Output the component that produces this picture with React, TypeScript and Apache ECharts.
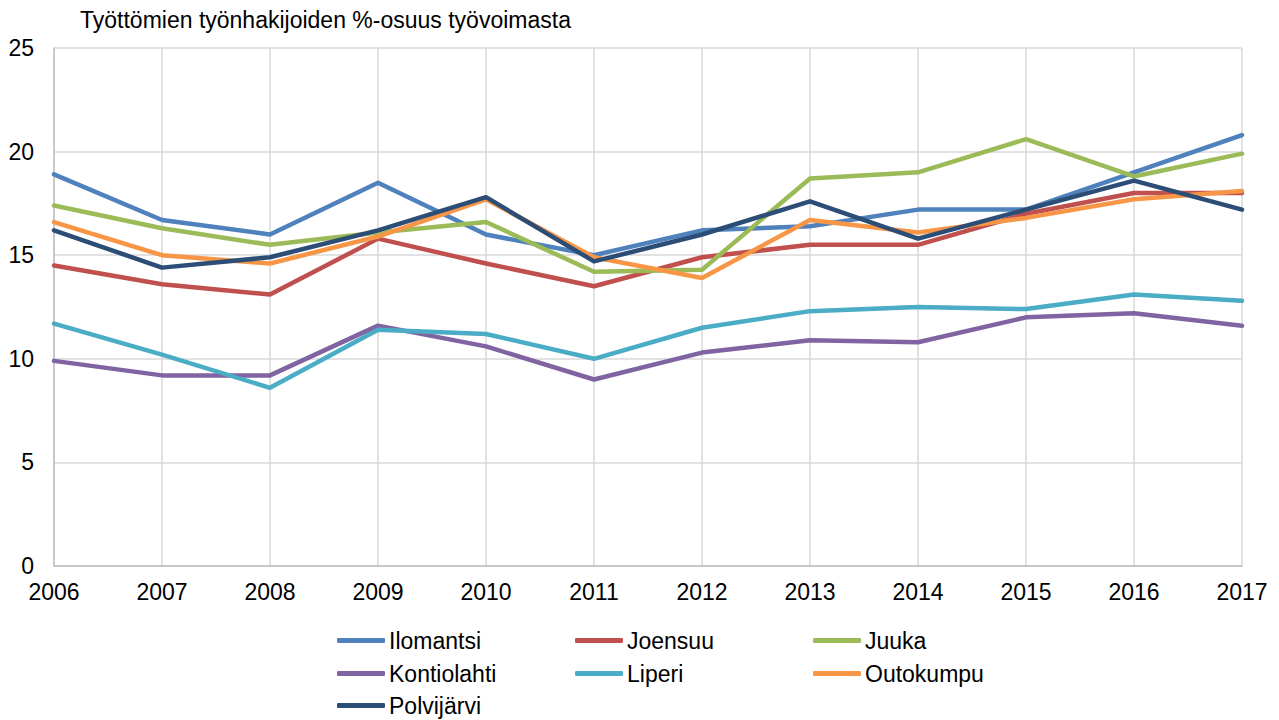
import React, { useEffect, useRef } from "react";
import * as echarts from "echarts";

const years = ["2006", "2007", "2008", "2009", "2010", "2011", "2012", "2013", "2014", "2015", "2016", "2017"];

const ilomantsi = [18.9, 16.7, 16.0, 18.5, 16.0, 15.0, 16.2, 16.4, 17.2, 17.2, 19.0, 20.8];
const joensuu = [14.5, 13.6, 13.1, 15.8, 14.6, 13.5, 14.9, 15.5, 15.5, 17.0, 18.0, 18.0];
const juuka = [17.4, 16.3, 15.5, 16.1, 16.6, 14.2, 14.3, 18.7, 19.0, 20.6, 18.8, 19.9];
const kontiolahti = [9.9, 9.2, 9.2, 11.6, 10.6, 9.0, 10.3, 10.9, 10.8, 12.0, 12.2, 11.6];
const liperi = [11.7, 10.2, 8.6, 11.4, 11.2, 10.0, 11.5, 12.3, 12.5, 12.4, 13.1, 12.8];
const outokumpu = [16.6, 15.0, 14.6, 15.9, 17.7, 14.9, 13.9, 16.7, 16.1, 16.8, 17.7, 18.1];
const polvijarvi = [16.2, 14.4, 14.9, 16.2, 17.8, 14.7, 16.0, 17.6, 15.8, 17.2, 18.6, 17.2];

const seriesNames = ["Ilomantsi", "Joensuu", "Juuka", "Kontiolahti", "Liperi", "Outokumpu", "Polvijärvi"];
const seriesData = [ilomantsi, joensuu, juuka, kontiolahti, liperi, outokumpu, polvijarvi];
const seriesColors = ["#4F81BD", "#C0504D", "#9BBB59", "#8064A2", "#4BACC6", "#F79646", "#2C4D75"];

const titleText = "Työttömien työnhakijoiden %-osuus työvoimasta";
const FONT = "Liberation Sans, Arial, sans-serif";

export default function App() {
  const ref = useRef<HTMLDivElement>(null);
  useEffect(() => {
    if (!ref.current) return;
    const chart = echarts.init(ref.current, null, { renderer: "svg" });
    const legendCols = [337, 575, 813];
    const legendRows = [641, 674, 706];
    const legends = seriesNames.map((name, i) => ({
      data: [name],
      left: legendCols[i % 3],
      top: legendRows[Math.floor(i / 3)] - 12,
      padding: 0,
      icon: "roundRect",
      itemWidth: 48,
      itemHeight: 5,
      selectedMode: false,
      textStyle: { fontFamily: FONT, fontSize: 23, color: "#000", padding: [0, 0, 0, -1] },
    }));
    chart.setOption({
      animation: false,
      backgroundColor: "#fff",
      title: {
        text: titleText,
        left: 80,
        top: 8,
        padding: 0,
        textStyle: { fontFamily: FONT, fontSize: 23, fontWeight: "normal", color: "#000" },
      },
      grid: { left: 54, right: 37, top: 48, bottom: 154, containLabel: false },
      legend: legends,
      xAxis: {
        type: "category",
        data: years,
        boundaryGap: false,
        axisLine: { show: true, lineStyle: { color: "#bfbfbf", width: 1.5 } },
        axisTick: { show: false },
        splitLine: { show: true, lineStyle: { color: "#d9d9d9", width: 1.5 } },
        axisLabel: { fontFamily: FONT, fontSize: 23, color: "#000", margin: 14 },
      },
      yAxis: {
        type: "value",
        min: 0,
        max: 25,
        interval: 5,
        axisLine: { show: true, lineStyle: { color: "#bfbfbf", width: 1.5 } },
        axisTick: { show: false },
        splitLine: { show: true, lineStyle: { color: "#d9d9d9", width: 1.5 } },
        axisLabel: { fontFamily: FONT, fontSize: 23, color: "#000", margin: 20 },
      },
      series: seriesNames.map((name, i) => ({
        name,
        type: "line",
        data: seriesData[i],
        color: seriesColors[i],
        showSymbol: false,
        symbol: "none",
        lineStyle: { width: 4.5, color: seriesColors[i], cap: "round", join: "round" },
      })),
    });
    return () => chart.dispose();
  }, []);
  return (
    <div
      ref={ref}
      style={{ position: "absolute", left: 0, top: 0, width: 1279, height: 720 }}
    />
  );
}
